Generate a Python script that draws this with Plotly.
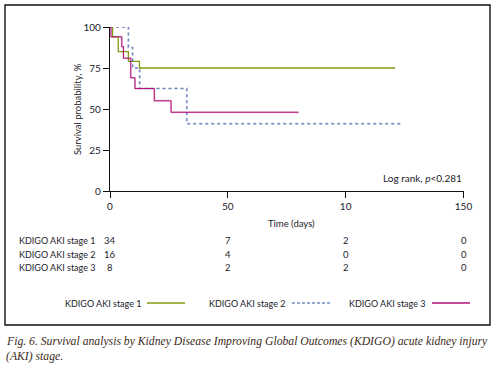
import plotly.graph_objects as go

# ---- data ----
stage1_t = [0, 1.1, 3.5, 7.8, 12.5, 121]
stage1_s = [100, 94, 85, 79, 75, 75]
stage2_t = [0, 7.8, 9.6, 12.6, 32.6, 123.5]
stage2_s = [100, 87.5, 75, 62.5, 41, 41]
stage3_t = [0, 0.4, 5.0, 5.7, 8.8, 10.6, 18.8, 25.9, 80]
stage3_s = [100, 94, 88, 81, 69, 62.5, 55, 48, 48]

group_names = ["KDIGO AKI stage 1", "KDIGO AKI stage 2", "KDIGO AKI stage 3"]
risk_times = [0, 50, 100, 150]
risk_stage1 = [34, 7, 2, 0]
risk_stage2 = [16, 4, 0, 0]
risk_stage3 = [8, 2, 2, 0]
x_tickvals = [0, 50, 100, 150]
x_ticktext = ["0", "50", "10", "150"]
y_tickvals = [0, 25, 50, 75, 100]

W, H = 498, 365
def px(x): return x / W
def py(y): return 1 - y / H

GREEN = "#7f9c12"
BLUE = "#2a56a3"
BLUE_LIGHT = "#b3bbd9"
MAG = "#b0127a"
PINK = "#ecc8dc"
FONT = "Lato"
TXT = "#1c1c2c"

fig = go.Figure()
fig.add_trace(go.Scatter(x=stage3_t, y=stage3_s, mode="lines", line_shape="hv",
                         line=dict(color=PINK, width=2.0), hoverinfo="skip", showlegend=False))
fig.add_trace(go.Scatter(x=stage2_t, y=stage2_s, mode="lines", line_shape="hv",
                         line=dict(color=BLUE_LIGHT, width=2, dash="dot"), hoverinfo="skip", showlegend=False))
fig.add_trace(go.Scatter(x=stage1_t, y=stage1_s, mode="lines", line_shape="hv",
                         line=dict(color=GREEN, width=1.3), name=group_names[0], showlegend=False))
fig.add_trace(go.Scatter(x=stage2_t, y=stage2_s, mode="lines", line_shape="hv",
                         line=dict(color=BLUE, width=0.9, dash="3px,3px"), name=group_names[1], showlegend=False,
                         opacity=0.6))
fig.add_trace(go.Scatter(x=stage3_t, y=stage3_s, mode="lines", line_shape="hv",
                         line=dict(color=MAG, width=1.0), name=group_names[2], showlegend=False))

ann = []
def add_text(text, x, y, xanchor="center", xref="paper", size=9, font=None, **kw):
    ann.append(dict(text=text, x=x, y=py(y), xref=xref, yref="paper", xanchor=xanchor,
                    yanchor="middle", showarrow=False,
                    font=font or dict(family=FONT, size=size, color=TXT), **kw))

# axis titles
add_text("Survival probability, %", px(77), 109, textangle=-90, size=9.5)
add_text("Time (days)", px(291), 223, size=9.5)
add_text("Log rank, <i>p</i><0.281", px(464), 178, xanchor="right", size=10)
# risk table
rows = [risk_stage1, risk_stage2, risk_stage3]
row_y = [241, 254, 267]
for name, vals, ry in zip(group_names, rows, row_y):
    add_text(name, px(17), ry, xanchor="left")
    for t, v in zip(risk_times, vals):
        add_text(str(v), t, ry, xref="x", size=9.5)
# legend
leg_text_x = [63, 207, 347]
leg_line = [(147, 185), (292, 330), (432, 470)]
leg_styles = [dict(color=GREEN, width=1.3), dict(color=BLUE, width=1, dash="3px,2px"), dict(color=MAG, width=1.3)]
shapes = []
for name, tx, (l0, l1), st in zip(group_names, leg_text_x, leg_line, leg_styles):
    add_text(name, px(tx), 303, xanchor="left")
    shapes.append(dict(type="line", xref="paper", yref="paper", x0=px(l0), x1=px(l1),
                       y0=py(303), y1=py(303), line=st))
# frame
shapes.append(dict(type="rect", xref="paper", yref="paper", x0=px(5), x1=px(490),
                   y0=py(5), y1=py(325), line=dict(color="#111", width=1.4)))
# caption
cap_font = dict(family="Liberation Serif", size=11.7, color="#3b2a20")
add_text("<i>Fig. 6. Survival analysis by Kidney Disease Improving Global Outcomes (KDIGO) acute kidney injury</i>",
         px(4), 341, xanchor="left", font=cap_font)
add_text("<i>(AKI) stage.</i>", px(4), 356, xanchor="left", font=cap_font)

fig.update_layout(
    width=W, height=H, margin=dict(l=0, r=0, t=0, b=0, pad=0), autosize=False,
    paper_bgcolor="white", plot_bgcolor="white",
    annotations=ann, shapes=shapes,
    xaxis=dict(domain=[px(110), px(463.5)], range=[0, 150], tickvals=x_tickvals, ticktext=x_ticktext,
               showgrid=False, zeroline=False, showline=True, linecolor="#111", linewidth=1.3,
               ticks="outside", ticklen=6, tickwidth=1.3, tickcolor="#111", automargin=False,
               tickfont=dict(family=FONT, size=10, color=TXT)),
    yaxis=dict(domain=[py(191), py(27)], range=[0, 100], tickvals=y_tickvals,
               showgrid=False, zeroline=False, showline=True, linecolor="#111", linewidth=1.3,
               ticks="outside", ticklen=6, tickwidth=1.3, tickcolor="#111", automargin=False,
               tickfont=dict(family=FONT, size=10, color=TXT)),
    showlegend=False,
)
fig.update_traces(cliponaxis=False)
fig.write_html("out.html", config={"displayModeBar": False, "responsive": False},
               post_script="document.documentElement.style.margin='0';document.body.style.margin='0';"
                           "document.body.style.padding='0';document.body.style.overflow='hidden';")
